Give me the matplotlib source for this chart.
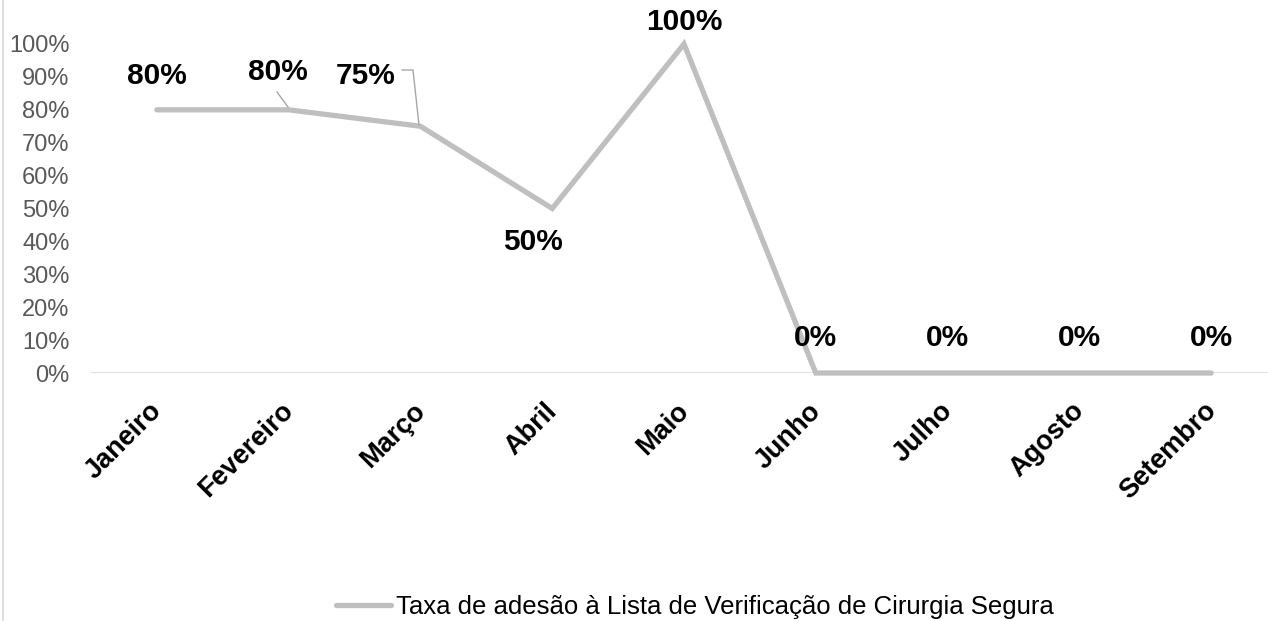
import matplotlib.pyplot as plt
from matplotlib.lines import Line2D
from matplotlib.transforms import ScaledTranslation

plt.rcParams['font.family'] = ['Liberation Sans', 'DejaVu Sans']

meses = ['Janeiro', 'Fevereiro', 'Março', 'Abril', 'Maio', 'Junho', 'Julho', 'Agosto', 'Setembro']
taxa = [0.80, 0.80, 0.75, 0.50, 1.00, 0.0, 0.0, 0.0, 0.0]
rotulos = ['80%', '80%', '75%', '50%', '100%', '0%', '0%', '0%', '0%']
serie = 'Taxa de adesão à Lista de Verificação de Cirurgia Segura'

# label offsets in pixels (dx, dy) relative to the point
offsets = [(0, 34), (-11, 38), (-55, 50), (-19, -33), (0, 22), (0, 35), (0, 35), (0, 35), (0, 35)]

fig = plt.figure(figsize=(12.68, 6.21), dpi=100)
ax = fig.add_axes([91 / 1268, 1 - 373 / 621, (1277 - 91) / 1268, (373 - 44) / 621])

x = list(range(len(meses)))
ax.plot(x, taxa, color='#BFBFBF', lw=3.8, solid_capstyle='round', solid_joinstyle='miter',
        clip_on=False, zorder=3, label=serie)

ax.set_xlim(-0.5, len(meses) - 0.5)
ax.set_ylim(0, 1)
ax.set_yticks([i / 10 for i in range(11)])
ax.set_yticklabels([f'{i * 10}%' for i in range(11)], color='#595959', fontsize=17)
ax.set_xticks(x)
ax.set_xticklabels(meses, rotation=45, ha='right', va='top', rotation_mode='anchor',
                   fontsize=19.5, fontweight='bold', color='black')
ax.tick_params(axis='both', length=0)
ax.tick_params(axis='y', pad=15.5)
ax.tick_params(axis='x', pad=18)
for lab in ax.get_xticklabels():
    lab.set_transform(lab.get_transform() + ScaledTranslation(-8 / 100, 0, fig.dpi_scale_trans))

for s in ax.spines.values():
    s.set_visible(False)
ax.axhline(0, color='#D9D9D9', lw=1.2, zorder=1)

for i, (v, r) in enumerate(zip(taxa, rotulos)):
    dx, dy = offsets[i]
    ax.annotate(r, (i, v), xytext=(dx * 0.72, dy * 0.72), textcoords='offset points',
                ha='center', va='center', fontsize=21.5, fontweight='bold', color='black')

# leader lines for Fevereiro and Março labels
fig.add_artist(Line2D([277 / 1268, 288 / 1268], [1 - 92 / 621, 1 - 107 / 621],
                      color='#A6A6A6', lw=1))
fig.add_artist(Line2D([402 / 1268, 413 / 1268, 419 / 1268],
                      [1 - 70 / 621, 1 - 70 / 621, 1 - 125 / 621], color='#A6A6A6', lw=1))

# chart border on the left
fig.add_artist(Line2D([3 / 1268, 3 / 1268], [0, 1], color='#D9D9D9', lw=1.2))

fig.legend(loc='center', bbox_to_anchor=(695 / 1268, 1 - 607 / 621), frameon=False,
           fontsize=18.5, handlelength=2.15, handletextpad=0.2)

fig.savefig('out.png', dpi=100)
